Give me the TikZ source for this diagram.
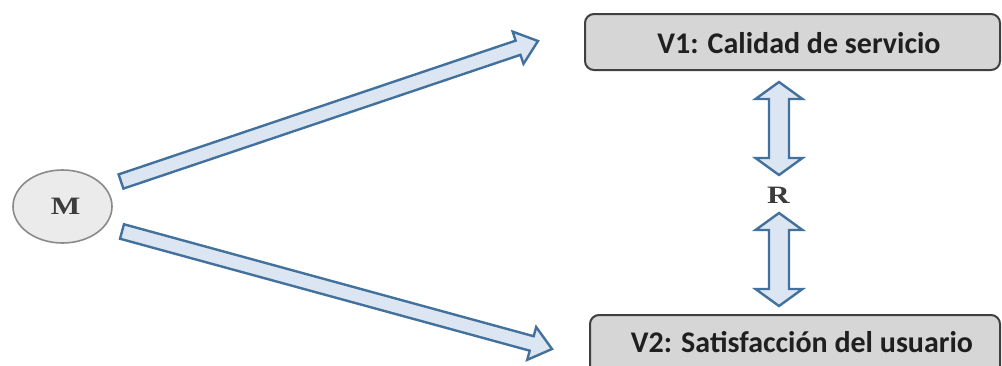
\documentclass[tikz,border=0pt]{standalone}
\usepackage{fontspec}
\setmainfont{Liberation Serif}
\newfontfamily\boxfont{Carlito}
\usetikzlibrary{calc,shapes.geometric}

\definecolor{arrowfill}{HTML}{DCE6F2}
\definecolor{arrowline}{HTML}{41719C}
\definecolor{boxfill}{HTML}{D6D6D6}
\definecolor{boxline}{HTML}{404040}
\definecolor{circfill}{HTML}{EBEBEB}
\definecolor{circline}{HTML}{8A8A8A}
\definecolor{lettergray}{HTML}{3C3C3C}

% Block arrow from #1 to #2: shaft half-width #3, head half-width #4, head length #5 (pt)
\newcommand\blockarrow[5]{%
  \path[blockshape] let \p1=(#1), \p2=(#2),
      \n1={atan2(\y2-\y1,\x2-\x1)}, \n2={veclen(\x2-\x1,\y2-\y1)-#5},
      \n3={\n1+90}, \n4={\n1-90} in
    ($(\p1)+(\n3:#3pt)$)
    -- ($(\p1)+(\n1:\n2)+(\n3:#3pt)$)
    -- ($(\p1)+(\n1:\n2)+(\n3:#4pt)$)
    -- (\p2)
    -- ($(\p1)+(\n1:\n2)+(\n4:#4pt)$)
    -- ($(\p1)+(\n1:\n2)+(\n4:#3pt)$)
    -- ($(\p1)+(\n4:#3pt)$)
    -- cycle;}

% Double-headed block arrow between #1 and #2
\newcommand\doubleblockarrow[5]{%
  \path[blockshape] let \p1=(#1), \p2=(#2),
      \n1={atan2(\y2-\y1,\x2-\x1)}, \n2={veclen(\x2-\x1,\y2-\y1)-#5},
      \n3={\n1+90}, \n4={\n1-90} in
    (\p1)
    -- ($(\p1)+(\n1:#5pt)+(\n3:#4pt)$)
    -- ($(\p1)+(\n1:#5pt)+(\n3:#3pt)$)
    -- ($(\p1)+(\n1:\n2)+(\n3:#3pt)$)
    -- ($(\p1)+(\n1:\n2)+(\n3:#4pt)$)
    -- (\p2)
    -- ($(\p1)+(\n1:\n2)+(\n4:#4pt)$)
    -- ($(\p1)+(\n1:\n2)+(\n4:#3pt)$)
    -- ($(\p1)+(\n1:#5pt)+(\n4:#3pt)$)
    -- ($(\p1)+(\n1:#5pt)+(\n4:#4pt)$)
    -- cycle;}

\tikzset{
  blockshape/.style={draw=arrowline, fill=arrowfill, line width=2.4pt, line join=miter},
  vbox/.style={draw=boxline, fill=boxfill, line width=2pt, rounded corners=9pt},
  vtext/.style={anchor=base, inner sep=0pt, text=black!88,
    font=\boxfont\bfseries\fontsize{30}{36}\selectfont},
  letter/.style={anchor=base, inner sep=0pt, text=lettergray, xscale=1.25,
    font=\bfseries\fontsize{25}{30}\selectfont},
  mcircle/.style={ellipse, draw=circline, fill=circfill, line width=1.6pt,
    minimum width=99pt, minimum height=73pt, inner sep=0pt}
}

\begin{document}
\begin{tikzpicture}[x=1pt, y=-1pt]
  \useasboundingbox (0,0) rectangle (1002,365);
  \clip (0,0) rectangle (1002,365);

  % sample M
  \node[mcircle] (Mc) at (62.5,206.5) {};
  \node[letter] (M) at (65.5,214.5) {M};

  % variable boxes
  \draw[vbox] (585,14) rectangle (1000,70);
  \node[vtext] (V1) at (799,53) {V1: Calidad de servicio};
  \draw[vbox] (590,315) rectangle (1000,390);
  \node[vtext] (V2) at (802,352) {V2: Satisfacción del usuario};

  % relation
  \node[letter] (R) at (778.5,203) {R};

  % arrow end points
  \coordinate (up-tail) at (121,181.5);
  \coordinate (up-tip) at (538,41);
  \coordinate (dn-tail) at (122,231.5);
  \coordinate (dn-tip) at (552,349);
  \coordinate (r1-top) at (779,82);
  \coordinate (r1-bot) at (779,175);
  \coordinate (r2-top) at (779,213);
  \coordinate (r2-bot) at (779,306);

  \blockarrow{up-tail}{up-tip}{7.5}{17}{21}
  \blockarrow{dn-tail}{dn-tip}{7.5}{17}{21}
  \doubleblockarrow{r1-top}{r1-bot}{10}{23.5}{17}
  \doubleblockarrow{r2-top}{r2-bot}{10}{23.5}{17}
\end{tikzpicture}
\end{document}
